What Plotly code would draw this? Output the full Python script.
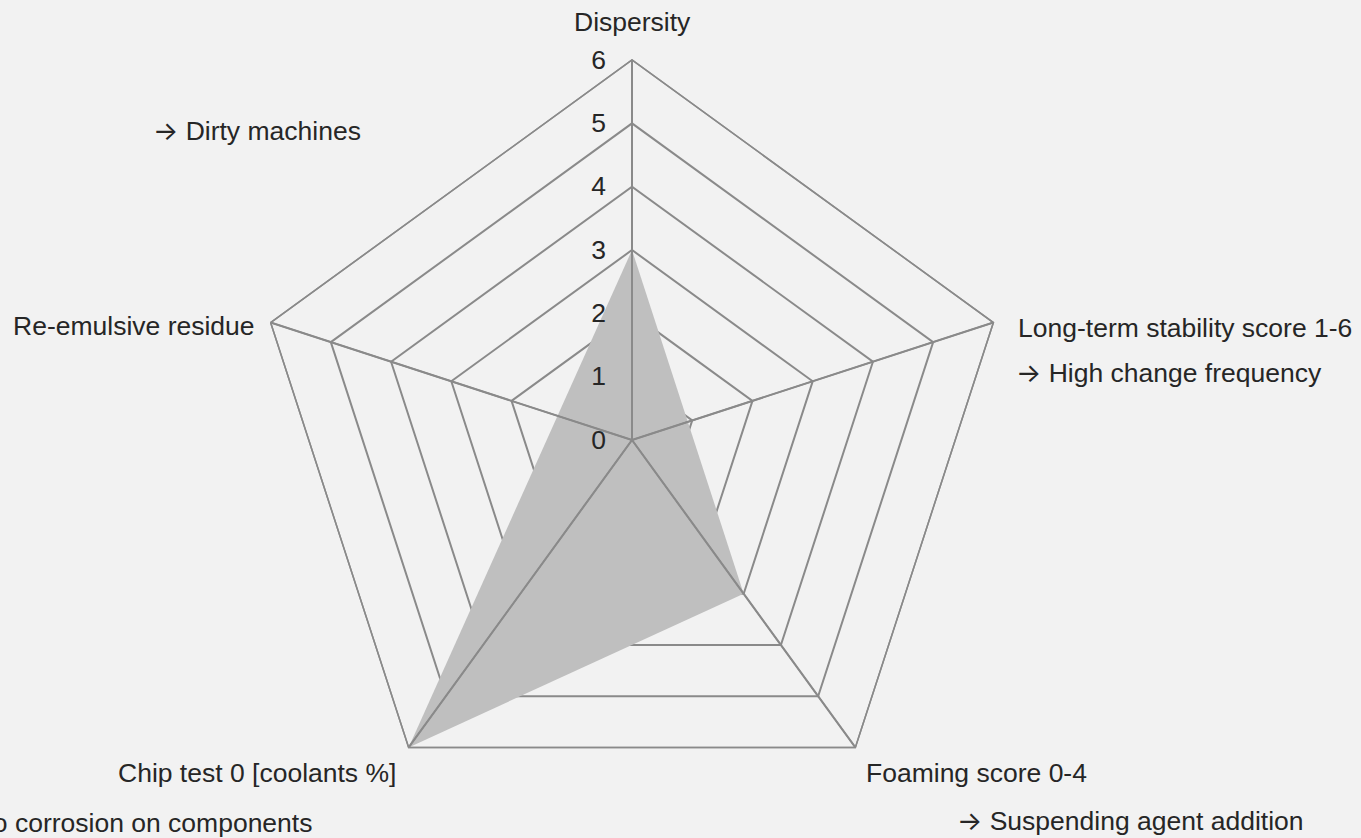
import plotly.graph_objects as go

categories = ["Dispersity", "Long-term stability score 1-6", "Foaming score 0-4",
              "Chip test 0 [coolants %]", "Re-emulsive residue"]
values = [3, None, 3, 6, None]
radial_ticks = [0, 1, 2, 3, 4, 5, 6]
notes = ["Dirty machines", "High change frequency",
         "Suspending agent addition", "No corrosion on components"]

W, H = 1361, 838
BG = "#f2f2f2"
GRID = "#8a8a8a"
TXT = "#262626"
FONT = "Liberation Sans, Arial, sans-serif"
FS = 26.5
ARROW = "<span style='font-family:Inter'>\u2192</span> "

theta_pts = [c for c, v in zip(categories, values) if v is not None]
r_pts = [v for v in values if v is not None]
r_host = [0 if v is None else v for v in values]  # invisible helper, registers every category

# spokes (axis lines from the centre to the outer ring for every category)
spoke_r, spoke_t = [], []
for c in categories:
    spoke_r += [radial_ticks[0], radial_ticks[-1], None]
    spoke_t += [c, c, None]

fig = go.Figure()
# filled series (bottom polar, with the concentric rings beneath it)
fig.add_trace(go.Scatterpolar(
    r=r_pts, theta=theta_pts, mode="none", fill="toself",
    fillcolor="#bfbfbf", hoverinfo="skip", showlegend=False, subplot="polar",
))
fig.add_trace(go.Scatterpolar(
    r=r_host, theta=categories, mode="none", hoverinfo="skip",
    showlegend=False, subplot="polar",
))
# overlay subplot: spokes, outline and tick labels above the fill
fig.add_trace(go.Scatterpolar(
    r=spoke_r, theta=spoke_t, mode="lines", line=dict(color=GRID, width=1.5),
    connectgaps=False, hoverinfo="skip", showlegend=False, subplot="polar2",
))

cx, cy, R = 632, 440, 380
dom = dict(x=[(cx - R) / W, (cx + R) / W], y=[1 - (cy + R) / H, 1 - (cy - R) / H])
ang_common = dict(direction="clockwise", rotation=90, categoryorder="array",
                  categoryarray=categories, ticks="", showticklabels=False)

fig.update_layout(
    width=W, height=H, margin=dict(l=0, r=0, t=0, b=0),
    paper_bgcolor=BG, plot_bgcolor=BG,
    font=dict(family=FONT, size=FS, color=TXT),
    polar=dict(
        domain=dom, bgcolor=BG, gridshape="linear",
        radialaxis=dict(range=[0, 6], tickvals=radial_ticks, angle=90, showgrid=True,
                        gridcolor=GRID, gridwidth=1.5,
                        showline=False, showticklabels=False, ticks=""),
        angularaxis=dict(showgrid=False, showline=True, linecolor=GRID, linewidth=1.5,
                         **ang_common),
    ),
    polar2=dict(
        domain=dom, bgcolor="rgba(0,0,0,0)", gridshape="linear",
        radialaxis=dict(range=[0, 6], tickvals=radial_ticks, angle=90, tickangle=90,
                        side="counterclockwise", showline=True, linecolor=GRID, linewidth=1.5,
                        showgrid=False, ticks="outside", ticklen=16,
                        tickcolor="rgba(0,0,0,0)",
                        tickfont=dict(size=FS, color=TXT, family=FONT)),
        angularaxis=dict(showline=True, linecolor=GRID, linewidth=1.5,
                         showgrid=True, gridcolor=GRID, gridwidth=1.5, **ang_common),
    ),
)

labels = [
    (categories[0], 632, 22, "center"),
    (categories[1], 1016, 328, "left"),
    (categories[2], 864, 773, "left"),
    (categories[3], 398, 773, "right"),
    (categories[4], 257, 326, "right"),
    (ARROW + notes[0], 151, 130, "left"),
    (ARROW + notes[1], 1014, 372, "left"),
    (ARROW + notes[2], 955, 820, "left"),
    (ARROW + notes[3], 314, 822, "right"),
]
for t, x, y, xa in labels:
    fig.add_annotation(text=t, x=x / W, y=1 - y / H, xref="paper", yref="paper",
                       xanchor=xa, yanchor="middle", showarrow=False,
                       font=dict(size=FS, color=TXT, family=FONT))

fig.write_html("out.html", config={"displayModeBar": False},
               post_script="document.body.style.margin='0';")
